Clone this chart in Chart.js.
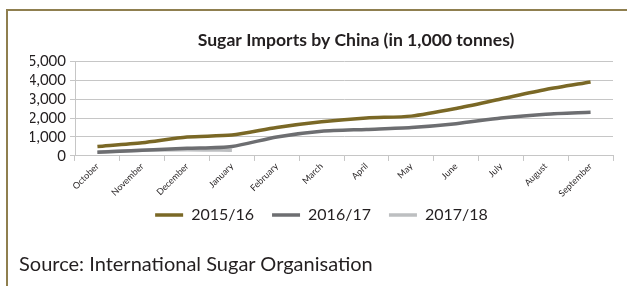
<!DOCTYPE html>
<html>
<head>
<meta charset="utf-8">
<script src="https://cdn.jsdelivr.net/npm/chart.js@4"></script>
<style>
  html, body { margin: 0; padding: 0; background: #fff; }
  #frame { position: absolute; left: 0; top: 0; width: 627px; height: 286px; overflow: hidden; }
  #box { position: absolute; left: 6px; top: 9px; width: 640px; height: 300px;
         border-left: 2px solid #8f7f4f; border-top: 2px solid #8f7f4f; }
  #wrap { position: absolute; left: 0; top: 0; width: 627px; height: 286px; }
  #source { position: absolute; left: 19px; top: 251px; font: 20px Lato, sans-serif; color: #231f20; white-space: nowrap; }
</style>
</head>
<body>
<div id="frame">
  <div id="box"></div>
  <div id="wrap"><canvas id="chart"></canvas></div>
  <div id="source">Source: International Sugar Organisation</div>
</div>
<script>
// months of the sugar season
const months = ['October', 'November', 'December', 'January', 'February', 'March',
                'April', 'May', 'June', 'July', 'August', 'September'];

// imports, 1,000 tonnes
const season1516 = [500, 700, 1000, 1100, 1500, 1800, 2000, 2100, 2500, 3000, 3500, 3900];
const season1617 = [200, 300, 400, 500, 1000, 1300, 1400, 1500, 1700, 2000, 2200, 2300];
const season1718 = [200, 300, 330, 300];

const yTicks = [0, 1000, 2000, 3000, 4000, 5000];

const ink = '#231f20';
const gridGrey = '#c6c6c6';

const line = (label, data, color) => ({
    label: label,
    data: data,
    borderColor: color,
    backgroundColor: color,
    borderWidth: 3.5,
    tension: 0.25,
    pointRadius: 0,
    pointStyle: 'line',
    fill: false
});

// legend sits closer to the axis labels than chart.js would put it,
// and the title is a touch right of the plot centre
const nudge = {
    id: 'nudge',
    afterLayout(chart) {
        const lg = chart.legend;
        const dy = lg.top + 26 - 215;
        lg.top -= dy;
        lg.bottom -= dy;
        chart.titleBlock.left += 12;
        chart.titleBlock.right += 12;
    }
};

new Chart(document.getElementById('chart'), {
    type: 'line',
    data: {
        labels: months,
        datasets: [
            line('2015/16', season1516, '#7a6826'),
            line('2016/17', season1617, '#6d6e71'),
            line('2017/18', season1718, '#bdbfc1')
        ]
    },
    plugins: [nudge],
    options: {
        responsive: true,
        maintainAspectRatio: false,
        animation: false,
        layout: { padding: { left: 30, right: 14, top: 0, bottom: 43 } },
        plugins: {
            title: {
                display: true,
                fullSize: false,
                text: 'Sugar Imports by China (in 1,000 tonnes)',
                color: ink,
                font: { family: 'Lato', size: 17.6, weight: 'bold' },
                padding: { top: 30, bottom: 10 }
            },
            legend: {
                position: 'bottom',
                labels: {
                    color: ink,
                    font: { family: 'Lato', size: 16 },
                    usePointStyle: true,
                    pointStyleWidth: 28,
                    boxHeight: 4,
                    padding: 18
                }
            },
            tooltip: { enabled: false }
        },
        scales: {
            x: {
                offset: true,
                grid: { offset: true, drawOnChartArea: false, drawTicks: true, tickLength: 5, color: gridGrey },
                border: { color: gridGrey },
                ticks: {
                    color: ink,
                    font: { family: 'Lato', size: 9 },
                    minRotation: 45,
                    maxRotation: 45,
                    autoSkip: false,
                    padding: 0
                }
            },
            y: {
                min: 0,
                max: 5000,
                afterBuildTicks: (scale) => { scale.ticks = yTicks.map(v => ({ value: v })); },
                grid: { color: gridGrey, tickLength: 5 },
                border: { color: gridGrey },
                ticks: {
                    color: ink,
                    font: { family: 'Lato', size: 15 },
                    padding: 4,
                    autoSkip: false,
                    callback: (v) => v.toLocaleString('en-US')
                },
                afterFit: (scale) => { scale.width = 45; }
            }
        }
    }
});
</script>
</body>
</html>
